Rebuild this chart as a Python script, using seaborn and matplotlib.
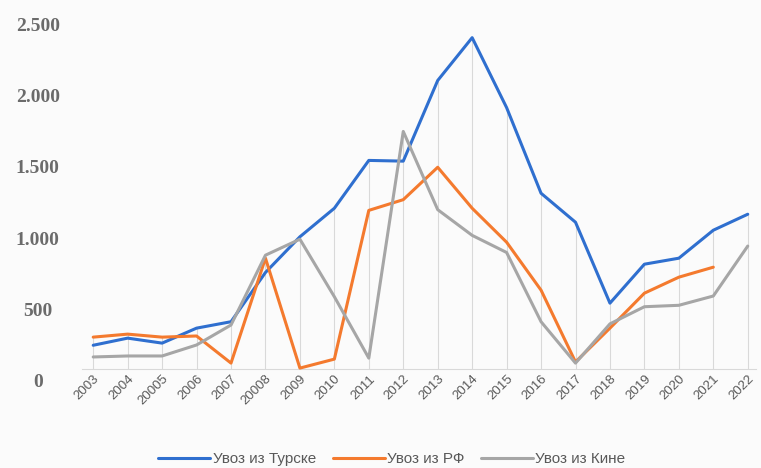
import numpy as np
import pandas as pd
import matplotlib
matplotlib.use("Agg")
import matplotlib.pyplot as plt
import seaborn as sns

# year labels as printed in the source (typos kept)
years = ["2003", "2004", "20005", "2006", "2007", "20008", "2009", "2010", "2011", "2012",
         "2013", "2014", "2015", "2016", "2017", "2018", "2019", "2020", "2021", "2022"]

turkey = [250, 300, 265, 370, 415, 760, 1010, 1210, 1545, 1540,
          2105, 2405, 1915, 1315, 1112, 545, 818, 860, 1056, 1168]
russia = [307, 328, 307, 315, 125, 860, 90, 153, 1195, 1270,
          1497, 1210, 972, 636, 133, 370, 615, 727, 797, np.nan]
china = [168, 175, 175, 252, 392, 881, 993, 590, 160, 1748,
         1200, 1020, 900, 415, 125, 400, 520, 530, 595, 945]

names = ["Увоз из Турске", "Увоз из РФ", "Увоз из Кине"]
colors = ["#2F6FCF", "#F47A2E", "#A6A6A6"]

yticks = [0, 500, 1000, 1500, 2000, 2500]
ytick_labels = ["0", "500", "1.000", "1.500", "2.000", "2.500"]

pos = np.arange(len(years))
df = pd.DataFrame({
    "pos": np.tile(pos, 3),
    "value": turkey + russia + china,
    "series": np.repeat(names, len(years)),
})

sns.set_style("white")
plt.rcParams["font.family"] = ["Liberation Sans", "DejaVu Sans"]

fig = plt.figure(figsize=(7.61, 4.68), dpi=100, facecolor="#fbfbfb")
ax = fig.add_axes([0.108, 0.186, 0.885, 0.793])
ax.set_facecolor("#fbfbfb")

# the source's category axis sits a little above the "0" label
base = 85

# drop lines from the highest series down to the axis
top = np.nanmax(np.vstack([turkey, russia, china]), axis=0)
ax.vlines(pos, base, top, color="#d9d9d9", linewidth=0.8, zorder=1)

sns.lineplot(data=df, x="pos", y="value", hue="series", hue_order=names,
             palette=colors, linewidth=2.2, ax=ax, zorder=3)

# spine position first: moving it resets the tick styling
for side in ["top", "right", "left"]:
    ax.spines[side].set_visible(False)
ax.spines["bottom"].set_position(("data", base))
ax.spines["bottom"].set_color("#d9d9d9")

ax.set_xlim(-0.32, 19.23)
ax.set_ylim(0, 2600)
ax.set_xticks(pos)
ax.set_xticklabels(years, rotation=45, ha="right", rotation_mode="anchor",
                   fontsize=9.5, color="#595959")
ax.set_yticks(yticks)
ax.set_yticklabels(ytick_labels, family="Liberation Serif", fontweight="bold",
                   fontsize=14, color="#6b6b6b", ha="center")
ax.tick_params(axis="both", length=0)
ax.tick_params(axis="y", pad=32)
ax.tick_params(axis="x", pad=3)
ax.set_xlabel("")
ax.set_ylabel("")

ax.legend(loc="center", bbox_to_anchor=(0.46, -0.21), ncol=3, frameon=False,
          fontsize=11, handlelength=3.4, handletextpad=0.15, columnspacing=1.1,
          labelcolor="#595959")

fig.savefig("out.png", dpi=100, facecolor=fig.get_facecolor())
